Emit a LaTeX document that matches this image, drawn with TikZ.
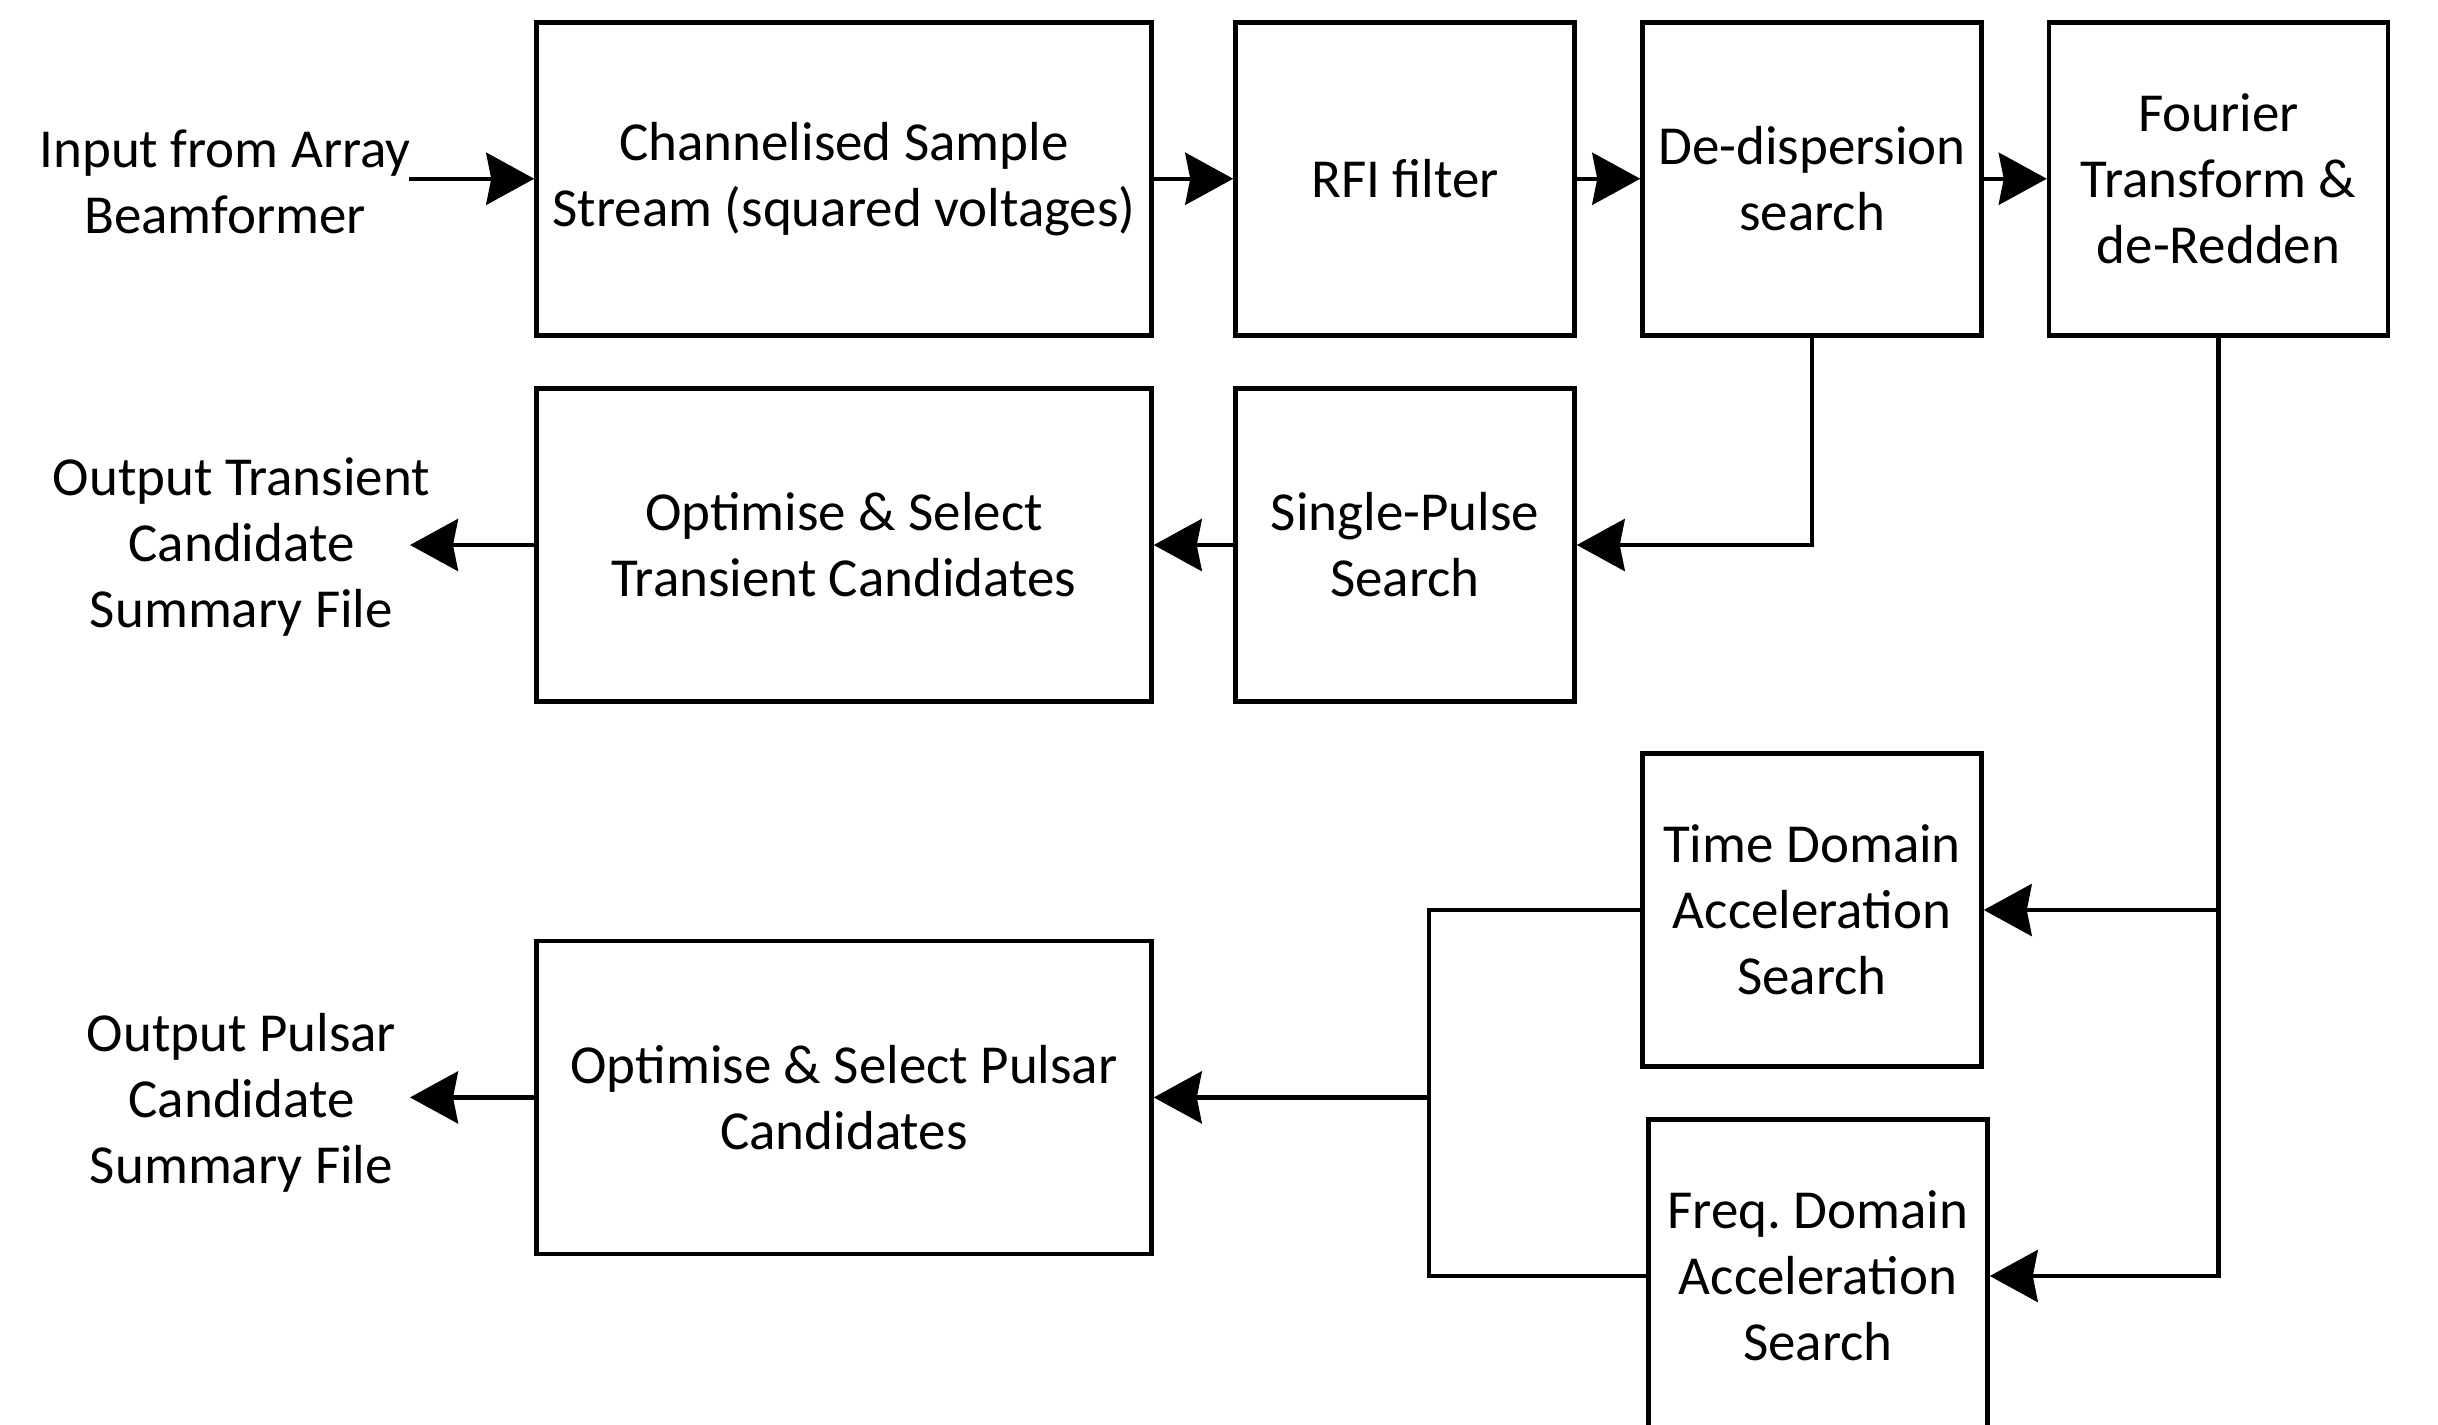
\documentclass[tikz,border=0pt]{standalone}
\usepackage{fontspec}
\setmainfont{Carlito}
\usetikzlibrary{arrows.meta}
\frenchspacing
\begin{document}
\begin{tikzpicture}[x=1pt,y=-1pt,
  every node/.style={font=\fontsize{55}{66}\selectfont, align=center, inner sep=0pt},
  block/.style={draw, line width=4.5pt, minimum height=313pt},
  wideblock/.style={block, minimum width=615pt},
  narrowblock/.style={block, minimum width=339pt},
  flow/.style={line width=4.5pt},
  arr/.style={flow, -{Stealth[length=48pt, width=52pt, inset=5pt]}},
  label/.style={}]
\clip (0,0) rectangle (2438,1424);
\fill[white] (0,0) rectangle (2438,1424);

% top row: main pipeline
\node[wideblock]   (chan) at (844,178.75)   {Channelised Sample\\Stream (squared voltages)};
\node[narrowblock] (rfi)  at (1405,178.75)  {RFI filter};
\node[narrowblock] (dd)   at (1812,178.75)  {De-dispersion\\search};
\node[narrowblock] (four) at (2218.5,178.75){Fourier\\Transform \&\\de-Redden};

% transient branch
\node[wideblock]   (ot)   at (844,545)      {Optimise \& Select\\Transient Candidates};
\node[narrowblock] (sp)   at (1405,545)     {Single-Pulse\\Search};

% pulsar branch
\node[narrowblock] (td)   at (1812,910)     {Time Domain\\Acceleration\\Search};
\node[narrowblock] (fd)   at (1818,1276)    {Freq.\ Domain\\Acceleration\\Search};
\node[wideblock]   (op)   at (844,1097.4)   {Optimise \& Select Pulsar\\Candidates};

% free text at the ends of the chain
\node[label] (inp)   at (225,182)   {Input from Array\\Beamformer};
\node[label] (outt)  at (241.5,547) {Output Transient\\Candidate\\Summary File};
\node[label] (outp)  at (241.5,1103){Output Pulsar\\Candidate\\Summary File};

\coordinate (inpend) at (409,178.75);
\coordinate (outtip) at (410,545);
\coordinate (outptip) at (410,1097.4);
\coordinate (merge) at (1429,1097.4);

% connectors
\draw[arr] (inpend) -- (chan.west);
\draw[arr] (chan.east) -- (rfi.west);
\draw[arr] (rfi.east) -- (dd.west);
\draw[arr] (dd.east) -- (four.west);
\draw[arr] (dd.south) |- (sp.east);
\draw[arr] (sp.west) -- (ot.east);
\draw[arr] (ot.west) -- (outtip);
\draw[arr] (four.south) |- (td.east);
\draw[arr] (four.south) |- (fd.east);
\draw[flow] (td.west) -| (merge);
\draw[flow] (fd.west) -| (merge);
\draw[arr] (merge) -- (op.east);
\draw[arr] (op.west) -- (outptip);
\end{tikzpicture}
\end{document}
